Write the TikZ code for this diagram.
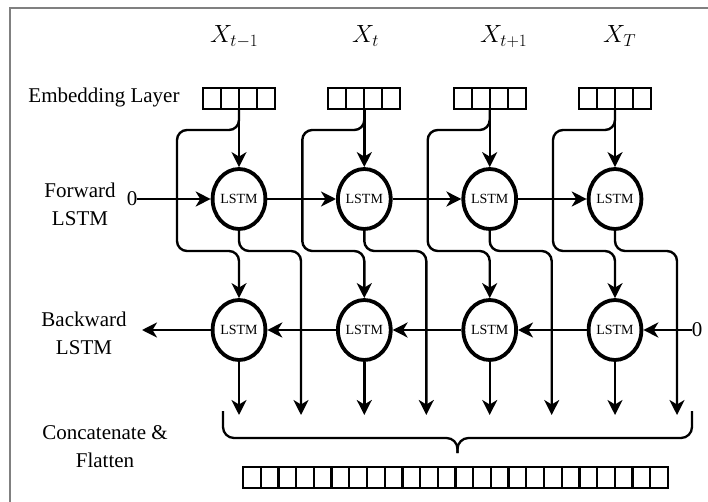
\documentclass[tikz,border=0pt]{standalone}
\usepackage{fontspec}
\setmainfont{Liberation Serif}
\usetikzlibrary{shapes.geometric,arrows.meta}
\begin{document}
\begin{tikzpicture}[x=1pt,y=-1pt,
  lstm/.style={ellipse,draw,line width=3.8pt,minimum width=52pt,minimum height=60pt,
    inner sep=0pt,font=\fontsize{14}{14}\selectfont},
  embbox/.style={draw,line width=2.3pt,minimum width=72pt,minimum height=21pt,inner sep=0pt,
    path picture={\foreach \k in {1,2,3}{\draw[line width=2.3pt]
      ([xshift=\k*18pt]path picture bounding box.south west) --
      ([xshift=\k*18pt]path picture bounding box.north west);}}},
  flatbox/.style={draw,line width=2.3pt,minimum width=425pt,minimum height=21pt,inner sep=0pt,
    path picture={\foreach \k in {1,...,23}{\draw[line width=2.3pt]
      ([xshift=\k*17.708pt]path picture bounding box.south west) --
      ([xshift=\k*17.708pt]path picture bounding box.north west);}}},
  lbl/.style={font=\fontsize{21}{28}\selectfont,align=center,inner sep=0pt},
  xlbl/.style={anchor=base west,inner sep=0pt,font=\fontsize{24}{24}\selectfont},
  tip/.style={-{Stealth[length=15pt,width=15pt,inset=4.5pt]}},
  conn/.style={line width=2.4pt,tip},
  wire/.style={line width=2.4pt,rounded corners=10pt,tip},
]
\useasboundingbox (0,0) rectangle (708,502);

% frame edges
\draw[line width=1.5pt,black!50] (10,502) -- (10,8) -- (708,8);

% input symbols
\node[xlbl] (x1) at (210,43) {$X_{t-1}$};
\node[xlbl] (x2) at (352,43) {$X_{t}$};
\node[xlbl] (x3) at (480,43) {$X_{t+1}$};
\node[xlbl] (x4) at (603,43) {$X_{T}$};

% row labels
\node[lbl] (lemb) at (104,97) {Embedding Layer};
\node[lbl] (lfw) at (80,204) {Forward\\LSTM};
\node[lbl] (lbw) at (84,333) {Backward\\LSTM};
\node[lbl] (lcf) at (105,447) {Concatenate \&\\Flatten};

% initial states
\node[lbl] (z1) at (132,199) {0};
\node[lbl] (z2) at (697,330) {0};
\coordinate (bl) at (142,330);

% columns
\foreach \i/\c in {1/239,2/364.3,3/489.7,4/615} {
  \node[embbox] (e\i) at (\c,98.5) {};
  \node[lstm] (f\i) at (\c,199) {LSTM};
  \node[lstm] (b\i) at (\c,330) {LSTM};
  \coordinate (fo\i) at (\c+62,415);
  \coordinate (bo\i) at (\c,415);
}

\foreach \i/\c in {1/239,2/364.3,3/489.7,4/615} {
  \draw[conn] (e\i.south) -- (f\i.north);
  \draw[wire] (e\i.south) |- (\c-62,130) |- (\c,251) -- (b\i.north);
  \draw[wire] (f\i.south) |- (\c+62,251) -- (fo\i);
  \draw[conn] (b\i.south) -- (bo\i);
}

% recurrent connections
\draw[conn] (z1.east) -- (f1.west);
\draw[conn] (f1.east) -- (f2.west);
\draw[conn] (f2.east) -- (f3.west);
\draw[conn] (f3.east) -- (f4.west);
\draw[conn] (z2.west) -- (b4.east);
\draw[conn] (b4.west) -- (b3.east);
\draw[conn] (b3.west) -- (b2.east);
\draw[conn] (b2.west) -- (b1.east);
\draw[conn] (b1.west) -- (bl);

% brace and flattened vector
\draw[line width=2.3pt,rounded corners=11pt] (223,411) |- (457.5,438) -- (457.5,453);
\draw[line width=2.3pt,rounded corners=11pt] (692,411) |- (457.5,438) -- (457.5,453);
\node[flatbox] (flat) at (455.5,477.5) {};
\end{tikzpicture}
\end{document}
